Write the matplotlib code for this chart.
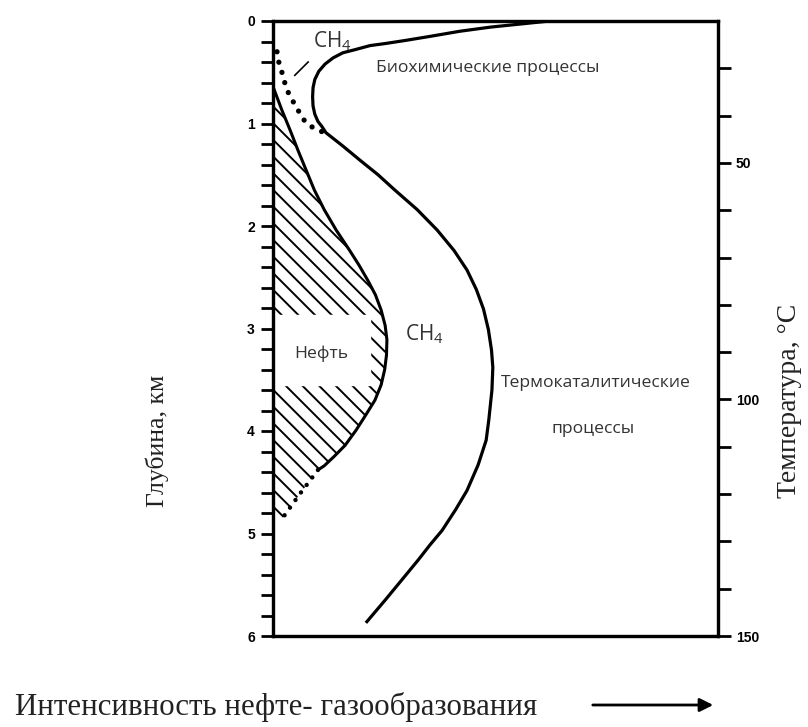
import matplotlib.pyplot as plt
import numpy as np

plt.rcParams['font.family'] = ['Liberation Sans', 'DejaVu Sans']
plt.rcParams['mathtext.fontset'] = 'custom'
plt.rcParams['mathtext.rm'] = 'Open Sans'
plt.rcParams['hatch.linewidth'] = 1.4

# газ (CH4): интенсивность (усл. ед.) и глубина, км
gas_x = [62.2, 55.5, 48.8, 42.0, 35.3, 29.7, 25.2, 21.8, 18.4, 15.7, 13.5, 11.7, 10.3, 9.4,
         9.0, 8.9, 9.0, 9.4, 10.1, 11.0, 11.9, 15.7, 19.6, 23.6, 27.4, 32.4, 36.9, 40.7,
         43.6, 45.7, 47.3, 48.4, 49.1, 49.4, 49.2, 48.5, 47.9, 46.1, 43.6, 41.0, 38.0,
         35.3, 32.6, 29.0, 25.2, 21.1]
gas_depth = [0.00, 0.03, 0.06, 0.10, 0.15, 0.19, 0.22, 0.24, 0.28, 0.31, 0.36, 0.42, 0.49,
             0.57, 0.65, 0.74, 0.83, 0.91, 0.98, 1.03, 1.09, 1.22, 1.36, 1.50, 1.65, 1.84,
             2.04, 2.24, 2.43, 2.62, 2.81, 3.01, 3.21, 3.38, 3.60, 3.89, 4.09, 4.33, 4.58,
             4.77, 4.97, 5.11, 5.26, 5.45, 5.65, 5.86]

# биохимический метан (пунктир)
bio_x = [0.9, 1.3, 2.0, 2.5, 3.1, 4.3, 5.4, 6.5, 7.6, 9.0, 11.0]
bio_depth = [0.30, 0.40, 0.50, 0.58, 0.67, 0.77, 0.85, 0.94, 1.00, 1.04, 1.08]

# нефть
oil_x = [0.0, 2.0, 3.8, 5.6, 7.4, 9.3, 11.5, 14.2, 17.1, 19.3, 21.3, 23.0, 24.3, 25.2,
         25.6, 25.5, 25.1, 24.3, 22.9, 20.9, 18.7, 16.2, 13.7, 11.5, 10.1]
oil_depth = [0.64, 0.87, 1.06, 1.26, 1.45, 1.65, 1.84, 2.04, 2.23, 2.38, 2.53, 2.67, 2.82,
             2.97, 3.11, 3.26, 3.40, 3.55, 3.70, 3.84, 3.99, 4.14, 4.25, 4.34, 4.38]
oil_tail_x = [10.1, 6.1, 1.8]
oil_tail_depth = [4.38, 4.61, 4.87]

depth_ticks = [0, 1, 2, 3, 4, 5, 6]
temp_ticks = [50, 100, 150]
temp_top, temp_bottom = 20, 150

fig = plt.figure(figsize=(8.08, 7.27), dpi=100)
ax = fig.add_axes([273 / 808, 1 - 636 / 727, 445 / 808, 615 / 727])
ax.set_xlim(0, 100)
ax.set_ylim(6, 0)

# штриховка под кривой нефти
fx = oil_x + oil_tail_x[1:]
fd = oil_depth + oil_tail_depth[1:]
ax.fill_betweenx(fd, 0, fx, facecolor='none', edgecolor='black', hatch='\\\\', linewidth=0)
ax.fill_between([0.5, 21.8], 2.87, 3.55, color='white', zorder=2)

ax.plot(oil_x, oil_depth, color='black', lw=2.2, zorder=3)
ax.plot(oil_tail_x, oil_tail_depth, color='black', lw=3.2, linestyle=(0, (0.01, 2.1)),
        dash_capstyle='round', zorder=3)
ax.plot(gas_x, gas_depth, color='black', lw=2.3, zorder=3, solid_joinstyle='round')
ax.plot(bio_x, bio_depth, color='black', lw=3.8, linestyle=(0, (0.01, 2.0)),
        dash_capstyle='round', zorder=3)
ax.plot([4.9, 7.9], [0.53, 0.40], color='black', lw=1.2)

fnt = dict(family='Open Sans', color='#333333')
ax.text(13.3, 0.2, r'$\mathrm{CH_4}$', fontsize=15, ha='center', va='center', **fnt)
ax.text(48.3, 0.46, 'Биохимические процессы', fontsize=12.6, ha='center', va='center', **fnt)
ax.text(34, 3.06, r'$\mathrm{CH_4}$', fontsize=15, ha='center', va='center', **fnt)
ax.text(10.8, 3.25, 'Нефть', fontsize=12.6, ha='center', va='center', zorder=4, **fnt)
ax.text(72.5, 3.53, 'Термокаталитические', fontsize=12.6, ha='center', va='center', **fnt)
ax.text(72.0, 3.98, 'процессы', fontsize=12.6, ha='center', va='center', **fnt)

ax.set_xticks([])
ax.set_yticks(depth_ticks)
ax.set_yticks(np.arange(0, 6.01, 0.2), minor=True)
ax.tick_params(axis='y', which='both', direction='out', length=9, width=2, labelsize=10, pad=4)
for lab in ax.get_yticklabels():
    lab.set_fontweight('bold')
for sp in ax.spines.values():
    sp.set_linewidth(2.3)

ax2 = ax.twinx()
ax2.set_ylim(temp_bottom, temp_top)
ax2.set_yticks(temp_ticks)
ax2.set_yticks(np.arange(30, 150, 10), minor=True)
ax2.tick_params(axis='y', which='both', direction='out', length=9, width=2, labelsize=10, pad=4)
for lab in ax2.get_yticklabels():
    lab.set_fontweight('bold')
for sp in ax2.spines.values():
    sp.set_linewidth(2.3)

serif = dict(family='Liberation Serif', color='#222222')
fig.text(157 / 808, 1 - 441 / 727, 'Глубина, км', rotation=90, fontsize=18.5,
         ha='center', va='center', **serif)
fig.text(790 / 808, 1 - 401 / 727, 'Температура, °С', rotation=90, fontsize=20,
         ha='center', va='center', **serif)
fig.text(15 / 808, 1 - 707 / 727, 'Интенсивность нефте- газообразования', fontsize=22.2,
         ha='left', va='center', **serif)
ax.annotate('', xy=(716, 727 - 705), xytext=(590, 727 - 705), xycoords='figure pixels',
            textcoords='figure pixels', annotation_clip=False,
            arrowprops=dict(arrowstyle='-|>', lw=2, color='black', mutation_scale=20))

fig.savefig('out.png', dpi=100)
